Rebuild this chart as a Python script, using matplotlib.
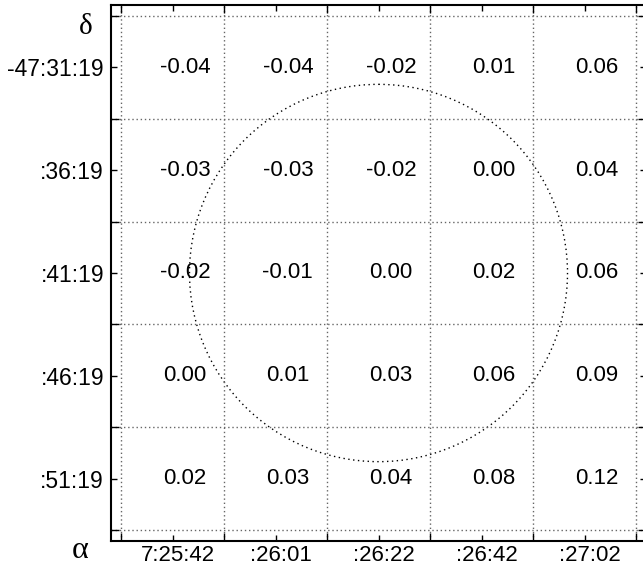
import numpy as np
import matplotlib
matplotlib.use('Agg')
import matplotlib.pyplot as plt
from matplotlib.patches import Circle
from matplotlib.transforms import ScaledTranslation

# values shown in the cells, top row first
row1 = [-0.04, -0.04, -0.02, 0.01, 0.06]
row2 = [-0.03, -0.03, -0.02, 0.00, 0.04]
row3 = [-0.02, -0.01, 0.00, 0.02, 0.06]
row4 = [0.00, 0.01, 0.03, 0.06, 0.09]
row5 = [0.02, 0.03, 0.04, 0.08, 0.12]
values = np.array([row1, row2, row3, row4, row5])

ra_labels = ['7:25:42', ':26:01', ':26:22', ':26:42', ':27:02']
dec_labels = ['-47:31:19', ':36:19', ':41:19', ':46:19', ':51:19']

# beam circle (grid units)
circle_center = (2.5, 2.5)
circle_radius = 1.835

plt.rcParams['font.family'] = ['Liberation Sans', 'DejaVu Sans']

fig = plt.figure(figsize=(6.43, 5.67), dpi=100)
W, H = 643, 567
ax = fig.add_axes([111 / W, 26 / H, 535 / W, 536 / H])

n = values.shape[0]
ax.set_xlim(-10 / 103, n + 10 / 103)
ax.set_ylim(n + 11 / 103, -11 / 103)

for i in range(n):
    for j in range(n):
        ax.text(j + 0.5 + 0.12, i + 0.5, f'{values[i, j]:.2f}',
                ha='center', va='center', fontsize=16)

centers = np.arange(n) + 0.5
ax.set_xticks(centers)
ax.set_xticklabels(ra_labels, fontsize=16)
ax.set_yticks(centers)
ax.set_yticklabels(dec_labels, fontsize=16.5)
ax.set_xticks(np.arange(n + 1), minor=True)
ax.set_yticks(np.arange(n + 1), minor=True)

ax.tick_params(which='both', direction='in', top=True, right=True, width=1)
ax.tick_params(which='major', length=4, pad=5)
ax.tick_params(axis='x', which='major', pad=3)
ax.tick_params(which='minor', length=6)
ax.grid(which='minor', color='0.4', linestyle=(0, (1, 2)), linewidth=1)

offset = ScaledTranslation(5 / 100, 0, fig.dpi_scale_trans)
for lab in ax.get_xticklabels():
    lab.set_transform(lab.get_transform() + offset)

for sp in ax.spines.values():
    sp.set_linewidth(1.5)

ax.add_patch(Circle(circle_center, circle_radius, fill=False, color='black',
                    linestyle=(0, (1, 2.5)), linewidth=1))

fig.text(86 / W, 1 - 27 / H, 'δ', family=['Liberation Serif', 'DejaVu Serif'],
         fontsize=21, ha='center', va='center')
fig.text(80 / W, 1 - 550 / H, 'α', family=['Liberation Serif', 'DejaVu Serif'],
         fontsize=23, ha='center', va='center')

fig.savefig('out.png', dpi=100)
